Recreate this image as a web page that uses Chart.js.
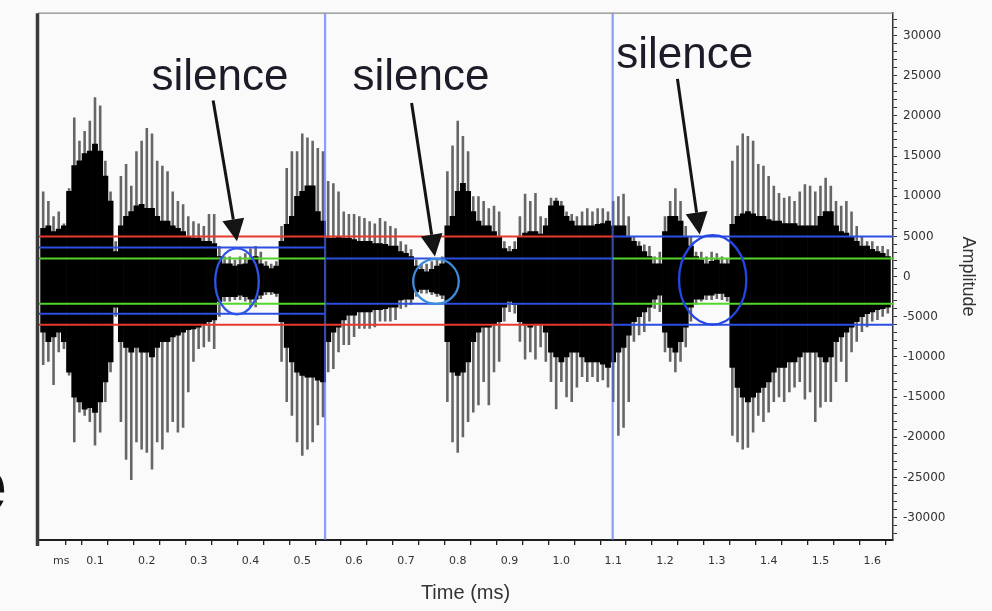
<!DOCTYPE html>
<html lang="en">
<head>
<meta charset="UTF-8">
<title>Speech waveform with silence thresholds</title>
<script src="https://cdn.jsdelivr.net/npm/chart.js"></script>
<style>
  html, body { margin: 0; padding: 0; background: #fafafa; }
  #wrap { position: relative; width: 992px; height: 611px; overflow: hidden; }
  .frag { position: absolute; font-family: "Liberation Sans", Arial, sans-serif; font-weight: bold; color: #111; line-height: 77px; }
</style>
</head>
<body>
<div id="wrap">
  <canvas id="wave"></canvas>
  <span class="frag" style="left:-36px;top:446px;font-size:77px;">e</span>
</div>
<script>
// envelope samples, one every 0.01 ms starting at 0 ms
const sampleStep = 0.01;

// dense black body of the waveform (upper / lower amplitude)
const coreHi = [
  6000, 6300, 5600, 5900, 6300, 10600, 13800, 14400, 15300, 15600,
  16500, 15600, 12500, 9400, 3100, 6300, 7500, 8100, 8800, 9000,
  8500, 8500, 7500, 6900, 6900, 6300, 6000, 5600, 5000, 4800,
  4800, 4400, 4400, 4100, 2500, 1600, 1600, 1300, 1500, 1600,
  2100, 2500, 1600, 1300, 1000, 1300, 4400, 6500, 7500, 10000,
  10600, 11300, 11300, 8100, 6900, 4800, 4800, 5000, 4800, 4800,
  4600, 4400, 4400, 4400, 4100, 4100, 4000, 3800, 3800, 3100,
  2900, 2500, 1300, 900, 600, 900, 1300, 1600, 6300, 7500,
  10600, 11600, 10600, 8100, 6900, 6300, 6300, 5600, 5000, 3500,
  3100, 3400, 5000, 5400, 5600, 5600, 5300, 6300, 8800, 9400,
  8800, 7500, 6900, 6300, 6300, 6300, 6300, 6500, 6600, 6900,
  6300, 6300, 6300, 5000, 4400, 3800, 3100, 2500, 1600, 1600,
  5600, 7500, 7500, 6900, 5000, 3800, 2500, 2100, 1600, 1900,
  2100, 1600, 1600, 6500, 7500, 7800, 8100, 7800, 7500, 7500,
  7100, 6900, 6900, 6600, 6600, 6600, 6300, 6300, 6300, 6300,
  7500, 8100, 8100, 6300, 5600, 5400, 5000, 4400, 3800, 3800,
  3400, 3100, 2900, 2500
];
const coreLo = [
  -6900, -8100, -7500, -6900, -8100, -11900, -15000, -15600, -16500, -16300,
  -16900, -15600, -13100, -10600, -3800, -8100, -8800, -9400, -8800, -9400,
  -9400, -10000, -8800, -8100, -8100, -7500, -7300, -6900, -6600, -6500,
  -6300, -5900, -5600, -5400, -3100, -2500, -2500, -2500, -2300, -2500,
  -2800, -2800, -2300, -1900, -1900, -2100, -5600, -8800, -10600, -11900,
  -12300, -12500, -12500, -12900, -13100, -8100, -6900, -6300, -5400, -4800,
  -4800, -4400, -4400, -4400, -4100, -4100, -4000, -3800, -3800, -2900,
  -2800, -2800, -1900, -1600, -1600, -1900, -2100, -2300, -8100, -11900,
  -12300, -11900, -10600, -8100, -6900, -6300, -6300, -6000, -5600, -3800,
  -3100, -3500, -5600, -6000, -6300, -6000, -6000, -6900, -9400, -10000,
  -10600, -10000, -9400, -9400, -10000, -10600, -10600, -10600, -10900, -11300,
  -10600, -9400, -8800, -7300, -5600, -5000, -4400, -3800, -2800, -2300,
  -6900, -8800, -9400, -8100, -6300, -3800, -2800, -2800, -2300, -2300,
  -2100, -2100, -2500, -11300, -13800, -15000, -15600, -15000, -14400, -13800,
  -13100, -11900, -11300, -11300, -10600, -10600, -10000, -9400, -9400, -9400,
  -10000, -10600, -10000, -8100, -7500, -6900, -6300, -5600, -5000, -4600,
  -4400, -4100, -4000, -3800
];

// thin grey peaks that stick out of the body
const peakHi = [
  10600, 9400, 7500, 8100, 6600, 11000, 19800, 16900, 18100, 19400,
  22300, 21300, 14400, 10600, 4400, 12500, 14000, 11300, 15600, 16900,
  18500, 17800, 14400, 13800, 13100, 10600, 9400, 9000, 7500, 6900,
  6600, 6300, 7800, 7800, 3800, 2500, 2500, 2100, 2500, 2900,
  3500, 3800, 3100, 1900, 1600, 1900, 6300, 13500, 15600, 15600,
  17800, 17300, 16900, 16000, 15600, 11900, 11600, 10600, 8100, 7800,
  7800, 7500, 7300, 6900, 6600, 7300, 6900, 6300, 6000, 4400,
  4000, 3400, 2100, 1600, 1600, 1900, 2100, 2500, 13100, 16300,
  19400, 17500, 15600, 10000, 10000, 9400, 8500, 8800, 8100, 4400,
  3800, 4400, 7500, 10300, 9400, 10400, 7500, 7300, 9800, 9800,
  9400, 8100, 7800, 7500, 8100, 8500, 8100, 8500, 8500, 8100,
  9400, 10000, 10300, 7500, 5000, 4400, 4000, 3800, 2500, 3100,
  7500, 9400, 11000, 9400, 6300, 5000, 3100, 3100, 2500, 3100,
  2900, 2500, 2300, 14400, 16300, 17800, 17500, 16900, 14000, 13800,
  12500, 11300, 10400, 9800, 10000, 9400, 10600, 11500, 11300, 10600,
  11300, 12300, 11300, 9400, 8800, 9400, 8100, 6300, 5000, 4400,
  4400, 3800, 3800, 3400
];
const peakLo = [
  -11000, -10600, -13500, -9400, -9000, -12300, -20600, -16900, -17300, -18100,
  -21000, -19400, -15600, -11900, -5000, -18100, -22800, -25300, -20600, -21500,
  -21900, -24000, -20600, -21500, -19400, -18100, -19400, -18800, -14400, -10600,
  -9000, -8800, -8100, -9000, -5000, -3100, -3100, -2900, -2900, -3100,
  -3800, -3800, -2800, -2300, -2300, -2500, -10600, -15600, -17300, -20600,
  -22300, -21500, -20600, -18500, -17500, -11900, -11500, -9400, -8500, -8500,
  -7500, -6500, -6500, -6500, -6300, -5600, -5600, -5600, -5400, -4000,
  -3800, -3500, -2500, -2100, -2100, -2300, -2500, -2800, -15600, -20600,
  -21900, -20000, -18100, -16900, -16000, -13100, -16000, -11900, -10600, -5600,
  -4400, -4600, -8100, -10300, -9400, -10300, -8800, -10600, -13100, -16500,
  -13100, -15000, -15600, -13800, -12500, -13100, -12500, -13100, -12900, -13800,
  -15600, -19800, -18800, -15600, -8100, -7300, -6900, -5600, -4000, -4400,
  -9400, -10600, -11900, -10600, -8800, -5600, -3500, -3100, -2900, -2900,
  -2800, -2900, -3100, -19800, -20600, -21500, -21300, -19400, -17300, -18100,
  -16900, -15600, -15000, -15600, -14400, -13800, -13100, -15300, -14400, -18100,
  -16300, -15600, -15600, -13100, -10600, -13100, -9400, -8100, -6900, -6300,
  -5600, -5400, -5000, -4600
];

// threshold segments: [from ms, to ms, amplitude, kind]
const thresholds = [
  [-0.01, 1.099, 5000, 'red'], [-0.01, 1.099, -6000, 'red'],
  [-0.01, 0.544, 3625, 'blue'], [-0.01, 0.544, -4625, 'blue'],
  [-0.01, 0.544, 2250, 'green'], [-0.01, 0.544, -3375, 'green'],
  [0.544, 1.099, 2250, 'blue'], [0.544, 1.099, -3375, 'blue'],
  [1.099, 1.64, 5000, 'blue'], [1.099, 1.64, -6000, 'blue'],
  [1.099, 1.64, 2250, 'green'], [1.099, 1.64, -3375, 'green']
];
// frame boundaries (ms)
const frameBreaks = [0.544, 1.099];

// silence annotations
const silenceText = ['silence', 'silence', 'silence'];
const labelTime = [0.341, 0.729, 1.238];
const labelAmp = [24750, 24750, 27400];
const arrowFromTime = [0.328, 0.711, 1.224];
const arrowFromAmp = [21900, 21600, 24600];
const arrowToTime = [0.374, 0.756, 1.267];
const arrowToAmp = [4400, 2500, 5250];
const ringTime = [0.374, 0.758, 1.292];
const ringAmp = [-600, -600, -400];
const ringHalfTime = [0.042, 0.044, 0.065];
const ringHalfAmp = [4100, 2800, 5560];

const msTick = 0.035;

const lineColours = { red: '#e8392e', blue: '#2b4fe0', green: '#55d42c' };
const ringColours = ['#2f55e6', '#3d8bdc', '#2446e4'];

const times = coreHi.map((_, i) => +(i * sampleStep).toFixed(2));

const xTicks = [0, msTick];
for (let k = 1; k <= 32; k++) xTicks.push(k * 5 / 100);
const yTicks = [];
for (let v = -32000; v <= 32000; v += 1000) yTicks.push(v);

const thresholdSets = thresholds.map(([a, b, lvl, kind]) => ({
  type: 'line',
  data: [{ x: a, y: lvl }, { x: b, y: lvl }],
  borderColor: lineColours[kind],
  borderWidth: 2,
  pointRadius: 0,
  order: 0
}));
const breakSets = frameBreaks.map(t => ({
  type: 'line',
  data: [{ x: t, y: -33000 }, { x: t, y: 33000 }],
  borderColor: 'rgba(80,110,245,0.65)',
  borderWidth: 2.2,
  pointRadius: 0,
  order: 0
}));

const overlay = {
  id: 'overlay',
  afterDatasetsDraw(chart) {
    const { ctx, chartArea: a, scales: { x, y } } = chart;
    ctx.save();
    // plot frame: grey top, heavy left edge
    ctx.strokeStyle = '#8a8a8a';
    ctx.lineWidth = 1.2;
    ctx.beginPath(); ctx.moveTo(a.left, a.top); ctx.lineTo(a.right, a.top); ctx.stroke();
    ctx.strokeStyle = '#3a3a3a';
    ctx.lineWidth = 3.5;
    ctx.beginPath(); ctx.moveTo(a.left - 0.5, a.top); ctx.lineTo(a.left - 0.5, a.bottom + 6); ctx.stroke();

    // silence rings
    ringTime.forEach((t, i) => {
      const cx = x.getPixelForValue(t), cy = y.getPixelForValue(ringAmp[i]);
      const rx = x.getPixelForValue(t + ringHalfTime[i]) - cx;
      const ry = cy - y.getPixelForValue(ringAmp[i] + ringHalfAmp[i]);
      ctx.beginPath();
      ctx.ellipse(cx, cy, rx, ry, 0, 0, Math.PI * 2);
      ctx.strokeStyle = ringColours[i];
      ctx.lineWidth = 2.3;
      ctx.stroke();
    });

    // arrows
    arrowFromTime.forEach((t, i) => {
      const x0 = x.getPixelForValue(t), y0 = y.getPixelForValue(arrowFromAmp[i]);
      const x1 = x.getPixelForValue(arrowToTime[i]), y1 = y.getPixelForValue(arrowToAmp[i]);
      const ang = Math.atan2(y1 - y0, x1 - x0);
      const head = 22, half = 11;
      const bx = x1 - head * Math.cos(ang), by = y1 - head * Math.sin(ang);
      ctx.strokeStyle = '#141414';
      ctx.fillStyle = '#141414';
      ctx.lineWidth = 3;
      ctx.beginPath(); ctx.moveTo(x0, y0); ctx.lineTo(bx, by); ctx.stroke();
      ctx.beginPath();
      ctx.moveTo(x1, y1);
      ctx.lineTo(bx + half * Math.sin(ang), by - half * Math.cos(ang));
      ctx.lineTo(bx - half * Math.sin(ang), by + half * Math.cos(ang));
      ctx.closePath();
      ctx.fill();
    });

    // labels
    ctx.font = '44px "Liberation Sans", Arial, sans-serif';
    ctx.fillStyle = '#1c1c28';
    ctx.textAlign = 'center';
    ctx.textBaseline = 'middle';
    silenceText.forEach((s, i) => {
      ctx.fillText(s, x.getPixelForValue(labelTime[i]), y.getPixelForValue(labelAmp[i]));
    });
    ctx.restore();
  }
};

const ctx = document.getElementById('wave').getContext('2d');
new Chart(ctx, {
  type: 'bar',
  data: {
    datasets: [
      ...thresholdSets,
      ...breakSets,
      {
        label: 'body',
        data: times.map((t, i) => ({ x: t, y: [coreLo[i], coreHi[i]] })),
        backgroundColor: '#000',
        borderWidth: 0,
        barPercentage: 1,
        categoryPercentage: 1,
        grouped: false,
        order: 1
      },
      {
        label: 'peaks',
        data: times.map((t, i) => ({ x: t, y: [peakLo[i], peakHi[i]] })),
        backgroundColor: '#666',
        borderWidth: 0,
        barPercentage: 0.5,
        categoryPercentage: 1,
        grouped: false,
        order: 2
      }
    ]
  },
  options: {
    responsive: true,
    maintainAspectRatio: false,
    animation: false,
    layout: { padding: { left: 38, top: 12, right: 0, bottom: 0 } },
    plugins: { legend: { display: false }, tooltip: { enabled: false } },
    scales: {
      x: {
        type: 'linear',
        min: -0.01,
        max: 1.64,
        offset: false,
        grid: {
          drawOnChartArea: false,
          tickLength: 5,
          lineWidth: 1.3,
          tickColor: c => (c.tick && c.tick.value === msTick) ? 'rgba(0,0,0,0)' : '#222'
        },
        border: { color: '#1e1e1e', width: 2 },
        afterBuildTicks: s => { s.ticks = xTicks.map(v => ({ value: v })); },
        ticks: {
          autoSkip: false,
          maxRotation: 0,
          padding: 10,
          color: '#333',
          font: { family: '"DejaVu Sans"', size: 11 },
          callback: v => {
            if (v === msTick) return 'ms';
            if (v > 0 && Math.abs(v * 10 - Math.round(v * 10)) < 1e-6) return v.toFixed(1);
            return '';
          }
        },
        title: {
          display: true,
          text: 'Time (ms)',
          color: '#333',
          font: { family: '"Liberation Sans"', size: 20 },
          padding: { top: 0, bottom: 6 }
        },
        afterFit: s => { s.height = 71; }
      },
      y: {
        position: 'right',
        min: -32768,
        max: 32767,
        grid: { drawOnChartArea: false, tickLength: 4, tickColor: '#333' },
        border: { color: '#333', width: 1.5 },
        afterBuildTicks: s => { s.ticks = yTicks.map(v => ({ value: v })); },
        ticks: {
          autoSkip: false,
          padding: 6,
          color: '#333',
          font: { family: '"DejaVu Sans"', size: 12 },
          callback: v => (v % 5000 === 0 ? String(v) : '')
        },
        title: {
          display: true,
          text: 'Amplitude',
          color: '#333',
          font: { family: '"Liberation Sans"', size: 18 },
          padding: { top: 13, bottom: 0 }
        },
        afterFit: s => { s.width = 99; }
      }
    }
  },
  plugins: [overlay]
});
</script>
</body>
</html>
